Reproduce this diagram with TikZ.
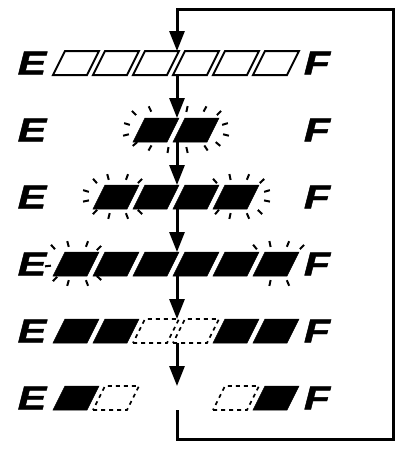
\documentclass[tikz,border=0pt]{standalone}
\usepackage{fontspec}
\newfontfamily\lblfont[FakeBold=1.2]{Liberation Sans}
\usetikzlibrary{arrows.meta}
\newcommand\pbox[3]{%
  \draw[#3] ({#1-23},{#2+12}) -- ({#1+11},{#2+12}) -- ({#1+23},{#2-12}) -- ({#1-11},{#2-12}) -- cycle;}
\newcommand\glow[5]{%
  \foreach \dx/\dy in {#5}{%
    \pgfmathsetmacro\gang{atan2((\dy)/(#4),(\dx)/(#3))}%
    \draw[ray] ({#1+\dx},{#2+\dy}) ++(\gang:-3) -- ++(\gang:6);}}
\begin{document}
\begin{tikzpicture}[x=1pt,y=-1pt,
  lbl/.style={font=\lblfont\bfseries\itshape\fontsize{33}{33}\selectfont, inner sep=0pt},
  outlinebox/.style={draw=black, line width=2pt, line join=miter},
  litbox/.style={fill=black, draw=black, line width=0.5pt},
  offbox/.style={draw=black, line width=1.6pt, dash pattern=on 4pt off 4pt},
  ray/.style={line width=2pt},
  flowarr/.style={line width=3pt, line join=miter, -{Triangle[width=15pt,length=20pt]}}]
\useasboundingbox (0,0) rectangle (401,451);

% labels
\foreach \r/\y in {1/63,2/130,3/197,4/264,5/331,6/398}{
  \node[lbl] (E\r) at (32,\y) {\scalebox{1.3}[1]{E}};
  \node[lbl] (F\r) at (317,\y) {\scalebox{1.3}[1]{F}};
  \coordinate (t\r) at (177,{\y-12});
  \coordinate (b\r) at (177,{\y+12});
}

% row 1: all off
\foreach \x in {76,116,156,196,236,276}{\pbox{\x}{63}{outlinebox}}
% row 2
\foreach \x in {156,196}{\pbox{\x}{130}{litbox}}
\glow{176}{130}{50}{20}{-42/-17,-26/-21,11/-21,29/-21,43/-17,-41/14,-26/18,-8/20,11/20,30/18,42/14,-49/-6,-50/5,49/-6,50/5}
% row 3
\foreach \x in {116,156,196,236}{\pbox{\x}{197}{litbox}}
\glow{116}{197}{30}{20}{-21/-16,-8/-20,11/-20,24/-16,-21/15,-7/19,11/19,24/15,-30/-6,-30/4}
\glow{236}{197}{30}{20}{-21/-16,-6/-20,12/-20,26/-16,-19/15,-6/19,12/19,24/15,31/-6,31/4}
% row 4
\foreach \x in {76,116,156,196,236,276}{\pbox{\x}{264}{litbox}}
\glow{76}{264}{30}{20}{-23/-17,-8/-20,11/-20,23/-16,-21/15,-8/19,11/19,23/14,-28/2}
\glow{276}{264}{30}{20}{-21/-17,-6/-20,12/-20,26/-17,-6/19,12/19}
% row 5
\foreach \x in {76,116,236,276}{\pbox{\x}{331}{litbox}}
\foreach \x in {156,196}{\pbox{\x}{331}{offbox}}
% row 6
\foreach \x in {76,276}{\pbox{\x}{398}{litbox}}
\foreach \x in {116,236}{\pbox{\x}{398}{offbox}}

% flow
\draw[flowarr] (b1) -- (t2);
\draw[flowarr] (b2) -- (t3);
\draw[flowarr] (b3) -- (t4);
\draw[flowarr] (b4) -- (t5);
\draw[flowarr] (b5) -- (t6);
\coordinate (c1) at (177,439);
\coordinate (c2) at (393,439);
\coordinate (c3) at (393,9);
\coordinate (c4) at (177,9);
\draw[flowarr] (b6) -- (c1) -- (c2) -- (c3) -- (c4) -- (t1);
\end{tikzpicture}
\end{document}
